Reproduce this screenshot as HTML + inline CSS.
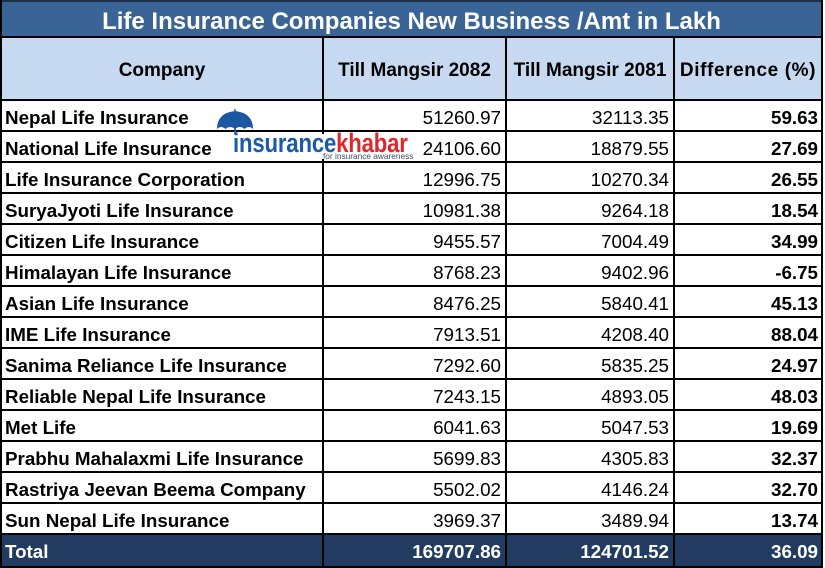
<!DOCTYPE html>
<html>
<head>
<meta charset="utf-8">
<style>
  html,body{margin:0;padding:0;}
  body{width:825px;height:568px;position:relative;overflow:hidden;background:#fff;
       font-family:"Liberation Sans",Arial,sans-serif;color:#000;}
  .a{position:absolute;}
  .ln{position:absolute;background:#000;}
  .c1,.c2,.c3,.c4{position:absolute;height:30px;line-height:30px;font-size:18.8px;white-space:nowrap;}
  .c1{left:5px;width:315px;font-weight:bold;}
  .c2{left:324px;width:177px;text-align:right;}
  .c3{left:507px;width:162px;text-align:right;}
  .c4{left:675px;width:143px;text-align:right;font-weight:bold;}
  .h{position:absolute;top:56px;height:30px;line-height:30px;font-size:19px;font-weight:bold;text-align:center;white-space:nowrap;}
  .tot{color:#fff;font-weight:bold;}
</style>
</head>
<body>
<!-- backgrounds -->
<div class="a" style="left:0;top:0;width:823px;height:38px;background:#3a6496;"></div>
<div class="a" style="left:0;top:38px;width:823px;height:62px;background:#c6d9f0;"></div>
<div class="a" style="left:0;top:534px;width:823px;height:34px;background:#213c60;"></div>

<!-- horizontal lines -->
<div class="ln" style="left:0;top:0;width:823px;height:2px;background:#1c2e48;"></div>
<div class="ln" style="left:0;top:36px;width:823px;height:2px;"></div>
<div class="ln" style="left:0;top:99px;width:823px;height:2px;"></div>
<div class="ln" style="left:0;top:130px;width:823px;height:2px;"></div>
<div class="ln" style="left:0;top:161px;width:823px;height:2px;"></div>
<div class="ln" style="left:0;top:192px;width:823px;height:2px;"></div>
<div class="ln" style="left:0;top:223px;width:823px;height:2px;"></div>
<div class="ln" style="left:0;top:254px;width:823px;height:2px;"></div>
<div class="ln" style="left:0;top:285px;width:823px;height:2px;"></div>
<div class="ln" style="left:0;top:316px;width:823px;height:2px;"></div>
<div class="ln" style="left:0;top:347px;width:823px;height:2px;"></div>
<div class="ln" style="left:0;top:378px;width:823px;height:2px;"></div>
<div class="ln" style="left:0;top:409px;width:823px;height:2px;"></div>
<div class="ln" style="left:0;top:440px;width:823px;height:2px;"></div>
<div class="ln" style="left:0;top:471px;width:823px;height:2px;"></div>
<div class="ln" style="left:0;top:502px;width:823px;height:2px;"></div>
<div class="ln" style="left:0;top:533px;width:823px;height:2px;"></div>
<div class="ln" style="left:0;top:566px;width:823px;height:2px;"></div>

<!-- vertical lines -->
<div class="ln" style="left:0;top:0;width:2px;height:568px;"></div>
<div class="ln" style="left:821px;top:0;width:2px;height:568px;"></div>
<div class="ln" style="left:322px;top:36px;width:2px;height:532px;"></div>
<div class="ln" style="left:505px;top:36px;width:2px;height:532px;"></div>
<div class="ln" style="left:673px;top:36px;width:2px;height:532px;"></div>

<!-- title -->
<div class="a" style="left:0;top:5px;width:823px;height:34px;line-height:34px;font-size:24px;font-weight:bold;color:#fff;text-align:center;white-space:nowrap;">Life Insurance Companies New Business /Amt in Lakh</div>

<!-- header -->
<div class="h" style="left:2px;width:320px;">Company</div>
<div class="h" style="left:324px;width:181px;">Till Mangsir 2082</div>
<div class="h" style="left:507px;width:166px;">Till Mangsir 2081</div>
<div class="h" style="left:675px;width:146px;letter-spacing:0.6px;">Difference (%)</div>

<!-- rows -->
<div class="c1" style="top:103px">Nepal Life Insurance</div><div class="c2" style="top:103px">51260.97</div><div class="c3" style="top:103px">32113.35</div><div class="c4" style="top:103px">59.63</div>
<div class="c1" style="top:134px">National Life Insurance</div><div class="c2" style="top:134px">24106.60</div><div class="c3" style="top:134px">18879.55</div><div class="c4" style="top:134px">27.69</div>
<div class="c1" style="top:165px">Life Insurance Corporation</div><div class="c2" style="top:165px">12996.75</div><div class="c3" style="top:165px">10270.34</div><div class="c4" style="top:165px">26.55</div>
<div class="c1" style="top:196px">SuryaJyoti Life Insurance</div><div class="c2" style="top:196px">10981.38</div><div class="c3" style="top:196px">9264.18</div><div class="c4" style="top:196px">18.54</div>
<div class="c1" style="top:227px">Citizen Life Insurance</div><div class="c2" style="top:227px">9455.57</div><div class="c3" style="top:227px">7004.49</div><div class="c4" style="top:227px">34.99</div>
<div class="c1" style="top:258px">Himalayan Life Insurance</div><div class="c2" style="top:258px">8768.23</div><div class="c3" style="top:258px">9402.96</div><div class="c4" style="top:258px">-6.75</div>
<div class="c1" style="top:289px">Asian Life Insurance</div><div class="c2" style="top:289px">8476.25</div><div class="c3" style="top:289px">5840.41</div><div class="c4" style="top:289px">45.13</div>
<div class="c1" style="top:320px">IME Life Insurance</div><div class="c2" style="top:320px">7913.51</div><div class="c3" style="top:320px">4208.40</div><div class="c4" style="top:320px">88.04</div>
<div class="c1" style="top:351px">Sanima Reliance Life Insurance</div><div class="c2" style="top:351px">7292.60</div><div class="c3" style="top:351px">5835.25</div><div class="c4" style="top:351px">24.97</div>
<div class="c1" style="top:382px">Reliable Nepal Life Insurance</div><div class="c2" style="top:382px">7243.15</div><div class="c3" style="top:382px">4893.05</div><div class="c4" style="top:382px">48.03</div>
<div class="c1" style="top:413px">Met Life</div><div class="c2" style="top:413px">6041.63</div><div class="c3" style="top:413px">5047.53</div><div class="c4" style="top:413px">19.69</div>
<div class="c1" style="top:444px">Prabhu Mahalaxmi Life Insurance</div><div class="c2" style="top:444px">5699.83</div><div class="c3" style="top:444px">4305.83</div><div class="c4" style="top:444px">32.37</div>
<div class="c1" style="top:475px">Rastriya Jeevan Beema Company</div><div class="c2" style="top:475px">5502.02</div><div class="c3" style="top:475px">4146.24</div><div class="c4" style="top:475px">32.70</div>
<div class="c1" style="top:506px">Sun Nepal Life Insurance</div><div class="c2" style="top:506px">3969.37</div><div class="c3" style="top:506px">3489.94</div><div class="c4" style="top:506px">13.74</div>

<!-- total -->
<div class="c1 tot" style="top:537px">Total</div>
<div class="c2 tot" style="top:537px">169707.86</div>
<div class="c3 tot" style="top:537px">124701.52</div>
<div class="c4 tot" style="top:537px">36.09</div>

<!-- logo -->
<svg class="a" style="left:212px;top:105px;" width="50" height="40" viewBox="212 105 50 40">
  <path d="M217,129 Q217,113 235,111 Q253,113 253,129 Q249,125 244.5,129 Q240,125 235,129 Q230,125 225.5,129 Q221,125 217,129 Z" fill="#1b57a2"/>
  <path d="M234,111 L235,108 L236,111 Z" fill="#1b57a2"/>
  <rect x="234.2" y="128" width="1.8" height="6" fill="#1b57a2"/>
</svg>
<div class="a" style="left:232px;top:134px;width:184px;height:25px;background:#fff;"></div>
<div class="a" style="left:233px;top:127px;height:32px;line-height:32px;font-size:27px;font-weight:bold;white-space:nowrap;transform:scaleX(0.82);transform-origin:0 0;letter-spacing:-0.2px;"><span style="color:#1b5aa6;">insurance</span><span style="color:#e0262b;">khabar</span></div>
<div class="a" style="left:323px;top:151px;height:10px;line-height:10px;font-size:8.3px;color:#3f4a6a;white-space:nowrap;">for insurance awareness</div>
</body>
</html>
